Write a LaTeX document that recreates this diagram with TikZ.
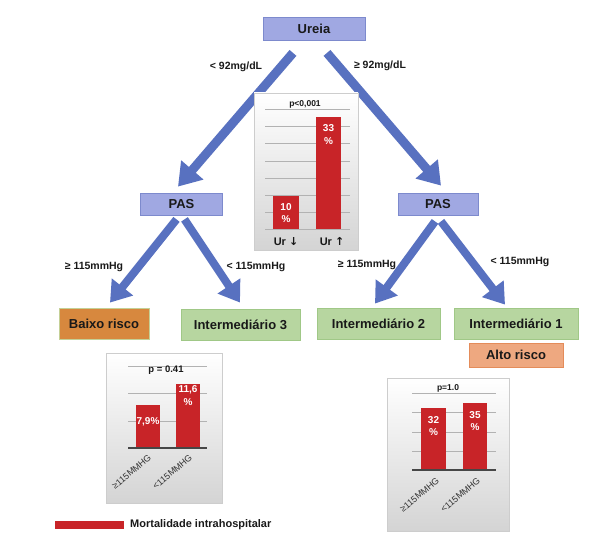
\documentclass[tikz,border=0pt]{standalone}
\usepackage{fontspec}
\setmainfont{Liberation Sans}
\newfontfamily\dejavu{DejaVu Sans}
\usetikzlibrary{arrows.meta,calc}
\definecolor{arrowblue}{RGB}{88,113,192}
\definecolor{boxblue}{RGB}{160,168,226}
\definecolor{boxblueline}{RGB}{125,138,205}
\definecolor{orangebox}{RGB}{215,136,62}
\definecolor{orangeline}{RGB}{196,208,150}
\definecolor{greenbox}{RGB}{183,214,160}
\definecolor{greenline}{RGB}{160,200,135}
\definecolor{salmonbox}{RGB}{238,168,128}
\definecolor{salmonline}{RGB}{228,140,90}
\definecolor{barred}{RGB}{200,36,40}
\definecolor{gridgray}{RGB}{178,178,178}
\definecolor{basegray}{RGB}{70,70,70}
\definecolor{txt}{RGB}{25,25,25}
\definecolor{chartline}{RGB}{205,205,205}
\begin{document}
\begin{tikzpicture}[x=1pt,y=-1pt,
  box/.style={draw, line width=0.8pt, inner sep=0pt, text=txt,
    font=\bfseries\fontsize{13}{15}\selectfont},
  bluebox/.style={box, fill=boxblue, draw=boxblueline},
  greenbx/.style={box, fill=greenbox, draw=greenline},
  bigarrow/.style={draw=arrowblue, line width=9pt,
    -{Triangle[width=28pt,length=22pt]}},
  smallarrow/.style={draw=arrowblue, line width=8pt,
    -{Triangle[width=26pt,length=20pt]}},
  lbl/.style={text=txt, font=\bfseries\fontsize{10.5}{12}\selectfont},
  chartbox/.style={draw=chartline, line width=0.6pt, top color=white, bottom color={rgb,255:red,212;green,212;blue,212}},
  gridl/.style={draw=gridgray, line width=0.7pt},
  basel/.style={draw=basegray, line width=1.6pt},
  bartxt/.style={text=white, font=\bfseries\fontsize{10}{12}\selectfont, inner sep=0pt},
  ptxt/.style={text=txt, font=\bfseries\fontsize{8.5}{10}\selectfont, inner sep=0pt},
  rottxt/.style={text={rgb,255:red,50;green,50;blue,50}, font=\fontsize{9}{10}\selectfont, inner sep=0pt, anchor=east, rotate=40}
]
\useasboundingbox (0,0) rectangle (600,543);
\fill[white] (0,0) rectangle (600,543);

% ---- main boxes
\node[bluebox, minimum width=102pt, minimum height=23pt] (ureia) at (314,29) {Ureia};
\node[bluebox, minimum width=82pt, minimum height=22pt] (pasL) at (181.5,204) {PAS};
\node[bluebox, minimum width=80pt, minimum height=22pt] (pasR) at (438,204) {PAS};

\node[box, fill=orangebox, draw=orangeline, minimum width=90pt, minimum height=31pt] (baixo) at (104,323.5) {Baixo risco};
\node[greenbx, minimum width=119pt, minimum height=31pt] (int3) at (240.5,324.5) {Intermediário 3};
\node[greenbx, minimum width=123pt, minimum height=31pt] (int2) at (378.5,323.5) {Intermediário 2};
\node[greenbx, minimum width=124pt, minimum height=31pt] (int1) at (516,323.5) {Intermediário 1};
\node[box, fill=salmonbox, draw=salmonline, minimum width=94pt, minimum height=24pt] (alto) at (516,355) {Alto risco};

% ---- arrows
\draw[bigarrow] ($(ureia.south)+(-21,12)$) -- ($(pasL.north)+(-3.5,-6)$);
\draw[bigarrow] ($(ureia.south)+(13,12)$) -- ($(pasR.north)+(3,-7)$);
\draw[smallarrow] ($(pasL.south)+(-5,4)$) -- ($(baixo.north)+(6,-5)$);
\draw[smallarrow] ($(pasL.south)+(3,4)$) -- ($(int3.north)+(-0.5,-6)$);
\draw[smallarrow] ($(pasR.south)+(-3,6)$) -- ($(int2.north)+(-3.5,-4)$);
\draw[smallarrow] ($(pasR.south)+(3,6)$) -- ($(int1.north)+(-11,-3)$);

% ---- arrow labels
\node[lbl] (l1) at (236,67) {< 92mg/dL};
\node[lbl] (l2) at (380,66) {≥ 92mg/dL};
\node[lbl] (l3) at (94,267) {≥ 115mmHg};
\node[lbl] (l4) at (256,267) {< 115mmHg};
\node[lbl] (l5) at (367,265) {≥ 115mmHg};
\node[lbl] (l6) at (520,262) {< 115mmHg};

% ---- centre chart
\path[chartbox] (254,93) rectangle (358,250);
\foreach \yy in {109,126,143,161,178,195,212} \draw[gridl] (265,\yy) -- (350,\yy);
\draw[gridl] (265,229) -- (350,229);
\fill[barred] (273,196) rectangle (299,229);
\fill[barred] (316,117) rectangle (341,229);
\node[ptxt] (pc) at (305,104) {p<0,001};
\node[bartxt] (c1a) at (286,207) {10};
\node[bartxt] (c1b) at (286,219.5) {\%};
\node[bartxt] (c2a) at (328.5,128) {33};
\node[bartxt] (c2b) at (328.5,141) {\%};
\node[text=txt, font=\bfseries\fontsize{11}{12}\selectfont, inner sep=0pt] (urd) at (286,242) {Ur {\dejavu\bfseries ↓}};
\node[text=txt, font=\bfseries\fontsize{11}{12}\selectfont, inner sep=0pt] (uru) at (332,242) {Ur {\dejavu\bfseries ↑}};

% ---- bottom-left chart
\path[chartbox] (106,353) rectangle (222,503);
\foreach \yy in {366,393,421} \draw[gridl] (128,\yy) -- (207,\yy);
\fill[barred] (136,405) rectangle (160,448);
\fill[barred] (176,384) rectangle (200,448);
\draw[basel] (128,448) -- (207,448);
\node[ptxt, font=\bfseries\fontsize{9.5}{11}\selectfont] (pl) at (166,370) {p = 0.41};
\node[bartxt] (bl1) at (148,422) {7,9\%};
\node[bartxt] (bl2a) at (188,390) {11,6};
\node[bartxt] (bl2b) at (188,402.5) {\%};
\node[rottxt] (rl1) at (150,456) {≥115MMHG};
\node[rottxt] (rl2) at (191,456) {<115MMHG};

% ---- bottom-right chart
\path[chartbox] (387,378) rectangle (509,531);
\foreach \yy in {393,412,432,451} \draw[gridl] (412,\yy) -- (496,\yy);
\fill[barred] (421,408) rectangle (446,470);
\fill[barred] (463,403) rectangle (487,470);
\draw[basel] (412,470) -- (496,470);
\node[ptxt] (pr) at (448,388) {p=1.0};
\node[bartxt] (br1a) at (433.5,420) {32};
\node[bartxt] (br1b) at (433.5,432.5) {\%};
\node[bartxt] (br2a) at (475,415) {35};
\node[bartxt] (br2b) at (475,427.5) {\%};
\node[rottxt] (rr1) at (438,479) {≥115MMHG};
\node[rottxt] (rr2) at (479,479) {<115MMHG};

% ---- legend
\fill[barred] (55,521) rectangle (124,529);
\node[anchor=west, inner sep=0pt, text=txt, font=\bfseries\fontsize{11}{12}\selectfont] (leg) at (130,525) {Mortalidade intrahospitalar};
\end{tikzpicture}
\end{document}
